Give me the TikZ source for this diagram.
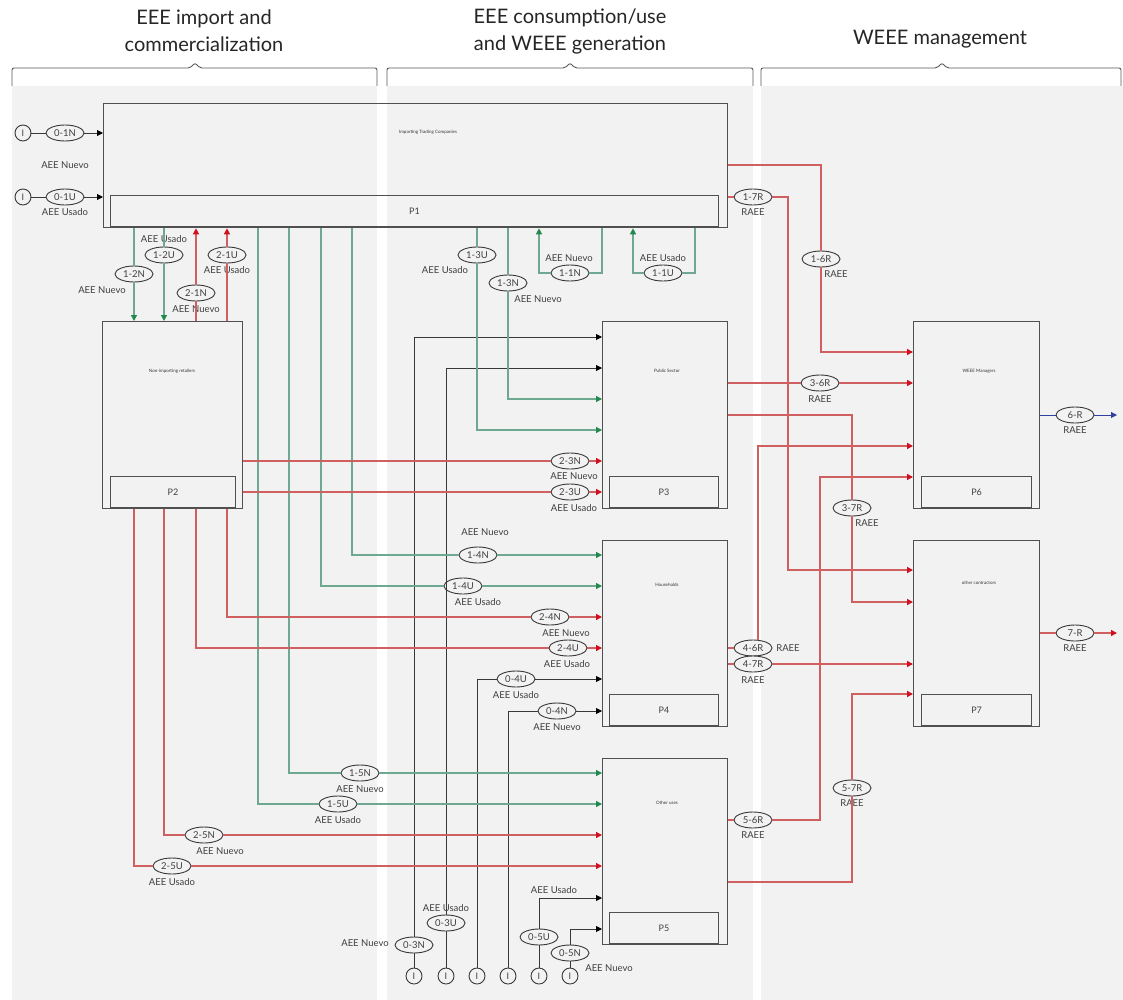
\documentclass[tikz,border=0pt]{standalone}
\usepackage{fontspec}
\setmainfont{Lato}
\usetikzlibrary{arrows.meta,shapes.geometric}
\definecolor{panel}{HTML}{F2F2F2}
\definecolor{boxline}{HTML}{505050}
\definecolor{gline}{HTML}{6FA890}
\definecolor{gtip}{HTML}{1F8A4C}
\definecolor{rline}{HTML}{D06060}
\definecolor{rtip}{HTML}{D01020}
\definecolor{bline}{HTML}{3040A0}
\definecolor{kline}{HTML}{383838}
\definecolor{txt}{HTML}{404040}
\begin{document}
\begin{tikzpicture}[x=1pt,y=-1pt,
  obox/.style={draw=boxline,line width=1.3pt,inner sep=0,anchor=north west},
  ibox/.style={draw=boxline,line width=1.1pt,inner sep=0,anchor=south west,font=\fontsize{9}{10}\selectfont,text=txt},
  ttl/.style={font=\fontsize{4.5}{5}\selectfont,text=black!80,inner sep=0},
  tag/.style={ellipse,draw=kline,line width=0.9pt,fill=panel,minimum width=38pt,minimum height=16pt,inner sep=0,font=\fontsize{9.5}{10}\selectfont,text=txt},
  srcI/.style={circle,draw=kline,line width=0.9pt,fill=panel,minimum size=16pt,inner sep=0,font=\fontsize{9}{10}\selectfont,text=txt},
  lbl/.style={font=\fontsize{9.5}{11}\selectfont,text=txt,inner sep=0},
  hdr/.style={font=\fontsize{20}{27}\selectfont,text=black!85,align=center,inner sep=0},
  brc/.style={draw=black!65,line width=0.9pt,rounded corners=2pt},
  gflow/.style={draw=gline,line width=1.2pt,-{Triangle[length=6pt,width=6pt,color=gtip]}},
  rflow/.style={draw=rline,line width=1.3pt,-{Triangle[length=6pt,width=6pt,color=rtip]}},
  kflow/.style={draw=kline,line width=0.9pt,-{Triangle[length=6pt,width=6pt,color=black]}},
  bflow/.style={draw=bline,line width=0.9pt,-{Triangle[length=6pt,width=6pt,color=bline]}},
]
\useasboundingbox (0,0) rectangle (1123,1000);
\fill[white] (0,0) rectangle (1123,1000);
% panels
\fill[panel] (12,86) rectangle (377,1000);
\fill[panel] (387,86) rectangle (753,1000);
\fill[panel] (761,86) rectangle (1123,1000);
% braces
\draw[brc] (12,86) -- (12,68) -- (190,68) -- (195,63) -- (200,68) -- (377,68) -- (377,86);
\draw[brc] (387,86) -- (387,68) -- (565,68) -- (570,63) -- (575,68) -- (753,68) -- (753,86);
\draw[brc] (761,86) -- (761,68) -- (937,68) -- (942,63) -- (947,68) -- (1121,68) -- (1121,86);
% headers
\node[hdr] (h1) at (204,31) {EEE import and\\commercialization};
\node[hdr] (h2) at (570,31) {EEE consumption/use\\and WEEE generation};
\node[hdr] (h3) at (940,39) {WEEE management};

% boxes
\node[obox,minimum width=624pt,minimum height=124pt] (P1) at (103,103) {};
\node[ibox,minimum width=608pt,minimum height=31pt] (P1i) at (110,227) {P1};
\node[ttl] (P1t) at (428,132) {Importing Trading Companies};
\node[obox,minimum width=140pt,minimum height=187pt] (P2) at (102,321) {};
\node[ibox,minimum width=125pt,minimum height=31pt] (P2i) at (110,508) {P2};
\node[ttl] (P2t) at (172,371) {Non-importing retailers};
\node[obox,minimum width=125pt,minimum height=187pt] (P3) at (602,321) {};
\node[ibox,minimum width=109pt,minimum height=31pt] (P3i) at (609,508) {P3};
\node[ttl] (P3t) at (667,371) {Public Sector};
\node[obox,minimum width=125pt,minimum height=186pt] (P4) at (602,540) {};
\node[ibox,minimum width=109pt,minimum height=31pt] (P4i) at (609,726) {P4};
\node[ttl] (P4t) at (667,585) {Households};
\node[obox,minimum width=125pt,minimum height=186pt] (P5) at (602,758) {};
\node[ibox,minimum width=109pt,minimum height=31pt] (P5i) at (609,944) {P5};
\node[ttl] (P5t) at (667,803) {Other uses};
\node[obox,minimum width=126pt,minimum height=187pt] (P6) at (913,321) {};
\node[ibox,minimum width=110pt,minimum height=31pt] (P6i) at (921,508) {P6};
\node[ttl] (P6t) at (979,371) {WEEE Managers};
\node[obox,minimum width=126pt,minimum height=186pt] (P7) at (913,540) {};
\node[ibox,minimum width=110pt,minimum height=31pt] (P7i) at (921,726) {P7};
\node[ttl] (P7t) at (979,583) {other contractors};

% sources
\node[srcI] (I1) at (23,133) {I};
\node[srcI] (I2) at (23,197) {I};
\node[srcI] (I3) at (414,976) {I};
\node[srcI] (I4) at (446,976) {I};
\node[srcI] (I5) at (477,976) {I};
\node[srcI] (I6) at (508,976) {I};
\node[srcI] (I7) at (539,976) {I};
\node[srcI] (I8) at (570,976) {I};
\coordinate (o6) at (1117,415);
\coordinate (o7) at (1117,633);

% tags
\node[tag] (e01N) at (65,133) {0-1N};
\node[tag] (e01U) at (65,197) {0-1U};
\node[tag] (e12N) at (134,274) {1-2N};
\node[tag] (e12U) at (164,255) {1-2U};
\node[tag] (e21N) at (196,293) {2-1N};
\node[tag] (e21U) at (227,255) {2-1U};
\node[tag] (e13U) at (477,255) {1-3U};
\node[tag] (e13N) at (508,283) {1-3N};
\node[tag] (e11N) at (570,273) {1-1N};
\node[tag] (e11U) at (663,273) {1-1U};
\node[tag] (e14N) at (478,555) {1-4N};
\node[tag] (e14U) at (463,586) {1-4U};
\node[tag] (e15N) at (360,773) {1-5N};
\node[tag] (e15U) at (338,804) {1-5U};
\node[tag] (e23N) at (570,461) {2-3N};
\node[tag] (e23U) at (570,492) {2-3U};
\node[tag] (e24N) at (550,617) {2-4N};
\node[tag] (e24U) at (568,648) {2-4U};
\node[tag] (e25N) at (204,835) {2-5N};
\node[tag] (e25U) at (172,866) {2-5U};
\node[tag] (e16R) at (821,259) {1-6R};
\node[tag] (e17R) at (753,197) {1-7R};
\node[tag] (e36R) at (820,383) {3-6R};
\node[tag] (e37R) at (852,508) {3-7R};
\node[tag] (e46R) at (753,648) {4-6R};
\node[tag] (e47R) at (753,664) {4-7R};
\node[tag] (e56R) at (753,820) {5-6R};
\node[tag] (e57R) at (852,788) {5-7R};
\node[tag] (e6R) at (1075,415) {6-R};
\node[tag] (e7R) at (1075,633) {7-R};
\node[tag] (e03N) at (414,945) {0-3N};
\node[tag] (e03U) at (446,923) {0-3U};
\node[tag] (e04U) at (516,679) {0-4U};
\node[tag] (e04N) at (557,711) {0-4N};
\node[tag] (e05U) at (539,937) {0-5U};
\node[tag] (e05N) at (570,953) {0-5N};

% labels
\node[lbl] (l01N) at (65,165) {AEE Nuevo};
\node[lbl] (l01U) at (65,212) {AEE Usado};
\node[lbl] (l12N) at (102,290) {AEE Nuevo};
\node[lbl] (l12U) at (164,239) {AEE Usado};
\node[lbl] (l21N) at (196,309) {AEE Nuevo};
\node[lbl] (l21U) at (227,270) {AEE Usado};
\node[lbl] (l13U) at (445,270) {AEE Usado};
\node[lbl] (l13N) at (538,299) {AEE Nuevo};
\node[lbl] (l11N) at (569,258) {AEE Nuevo};
\node[lbl] (l11U) at (663,258) {AEE Usado};
\node[lbl] (l14N) at (485,532) {AEE Nuevo};
\node[lbl] (l14U) at (478,602) {AEE Usado};
\node[lbl] (l15N) at (360,789) {AEE Nuevo};
\node[lbl] (l15U) at (338,820) {AEE Usado};
\node[lbl] (l23N) at (574,476) {AEE Nuevo};
\node[lbl] (l23U) at (574,508) {AEE Usado};
\node[lbl] (l24N) at (566,633) {AEE Nuevo};
\node[lbl] (l24U) at (567,664) {AEE Usado};
\node[lbl] (l25N) at (220,851) {AEE Nuevo};
\node[lbl] (l25U) at (172,882) {AEE Usado};
\node[lbl] (l16R) at (836,274) {RAEE};
\node[lbl] (l17R) at (753,212) {RAEE};
\node[lbl] (l36R) at (820,399) {RAEE};
\node[lbl] (l37R) at (867,523) {RAEE};
\node[lbl] (l46R) at (788,648) {RAEE};
\node[lbl] (l47R) at (753,680) {RAEE};
\node[lbl] (l56R) at (753,835) {RAEE};
\node[lbl] (l57R) at (852,803) {RAEE};
\node[lbl] (l6R) at (1075,430) {RAEE};
\node[lbl] (l7R) at (1075,648) {RAEE};
\node[lbl] (l03N) at (365,943) {AEE Nuevo};
\node[lbl] (l03U) at (446,908) {AEE Usado};
\node[lbl] (l04U) at (516,695) {AEE Usado};
\node[lbl] (l04N) at (557,727) {AEE Nuevo};
\node[lbl] (l05U) at (554,890) {AEE Usado};
\node[lbl] (l05N) at (609,968) {AEE Nuevo};

% black inputs
\draw[kflow] (I1) -- (e01N) -- (P1.west |- e01N);
\draw[kflow] (I2) -- (e01U) -- (P1.west |- e01U);
\draw[kflow] (I3) -- (e03N) |- (P3.west |- 0,337);
\draw[kflow] (I4) -- (e03U) |- (P3.west |- 0,368);
\draw[kflow] (I5) |- (e04U) -- (P4.west |- e04U);
\draw[kflow] (I6) |- (e04N) -- (P4.west |- e04N);
\draw[kflow] (I7) -- (e05U) |- (P5.west |- 0,898);
\draw[kflow] (I8) -- (e05N) |- (P5.west |- 0,929);

% green flows from P1
\draw[gflow] (P1.south -| 134,0) -- (e12N) -- (P2.north -| 134,0);
\draw[gflow] (P1.south -| 164,0) -- (e12U) -- (P2.north -| 164,0);
\draw[gflow] (P1.south -| 477,0) -- (e13U) |- (P3.west |- 0,430);
\draw[gflow] (P1.south -| 508,0) -- (e13N) |- (P3.west |- 0,399);
\draw[gflow] (P1.south -| 602,0) |- (e11N) -| (P1.south -| 539,0);
\draw[gflow] (P1.south -| 695,0) |- (e11U) -| (P1.south -| 633,0);
\draw[gflow] (P1.south -| 352,0) |- (e14N) -- (P4.west |- e14N);
\draw[gflow] (P1.south -| 321,0) |- (e14U) -- (P4.west |- e14U);
\draw[gflow] (P1.south -| 289,0) |- (e15N) -- (P5.west |- e15N);
\draw[gflow] (P1.south -| 258,0) |- (e15U) -- (P5.west |- e15U);

% red flows from P2
\draw[rflow] (P2.north -| 196,0) -- (e21N) -- (P1.south -| 196,0);
\draw[rflow] (P2.north -| 227,0) -- (e21U) -- (P1.south -| 227,0);
\draw[rflow] (P2.east |- e23N) -- (e23N) -- (P3.west |- e23N);
\draw[rflow] (P2.east |- e23U) -- (e23U) -- (P3.west |- e23U);
\draw[rflow] (P2.south -| 227,0) |- (e24N) -- (P4.west |- e24N);
\draw[rflow] (P2.south -| 196,0) |- (e24U) -- (P4.west |- e24U);
\draw[rflow] (P2.south -| 164,0) |- (e25N) -- (P5.west |- e25N);
\draw[rflow] (P2.south -| 134,0) |- (e25U) -- (P5.west |- e25U);

% red flows to WEEE management
\draw[rflow] (P1.east |- 0,165) -| (e16R) |- (P6.west |- 0,352);
\draw[rflow] (P1.east |- e17R) -- (e17R) -| (788,570) -- (P7.west |- 0,570);
\draw[rflow] (P3.east |- e36R) -- (e36R) -- (P6.west |- e36R);
\draw[rflow] (P3.east |- 0,415) -| (e37R) |- (P7.west |- 0,602);
\draw[rflow] (P4.east |- e46R) -- (e46R) (e46R.north -| 758,0) |- (P6.west |- 0,446);
\draw[rflow] (P4.east |- e47R) -- (e47R) -- (P7.west |- e47R);
\draw[rflow] (P5.east |- e56R) -- (e56R) -| (820,477) -- (P6.west |- 0,477);
\draw[rflow] (P5.east |- 0,882) -| (e57R) |- (P7.west |- 0,694);

% outputs
\draw[bflow] (P6.east |- e6R) -- (e6R) -- (o6);
\draw[rflow] (P7.east |- e7R) -- (e7R) -- (o7);
\end{tikzpicture}
\end{document}
